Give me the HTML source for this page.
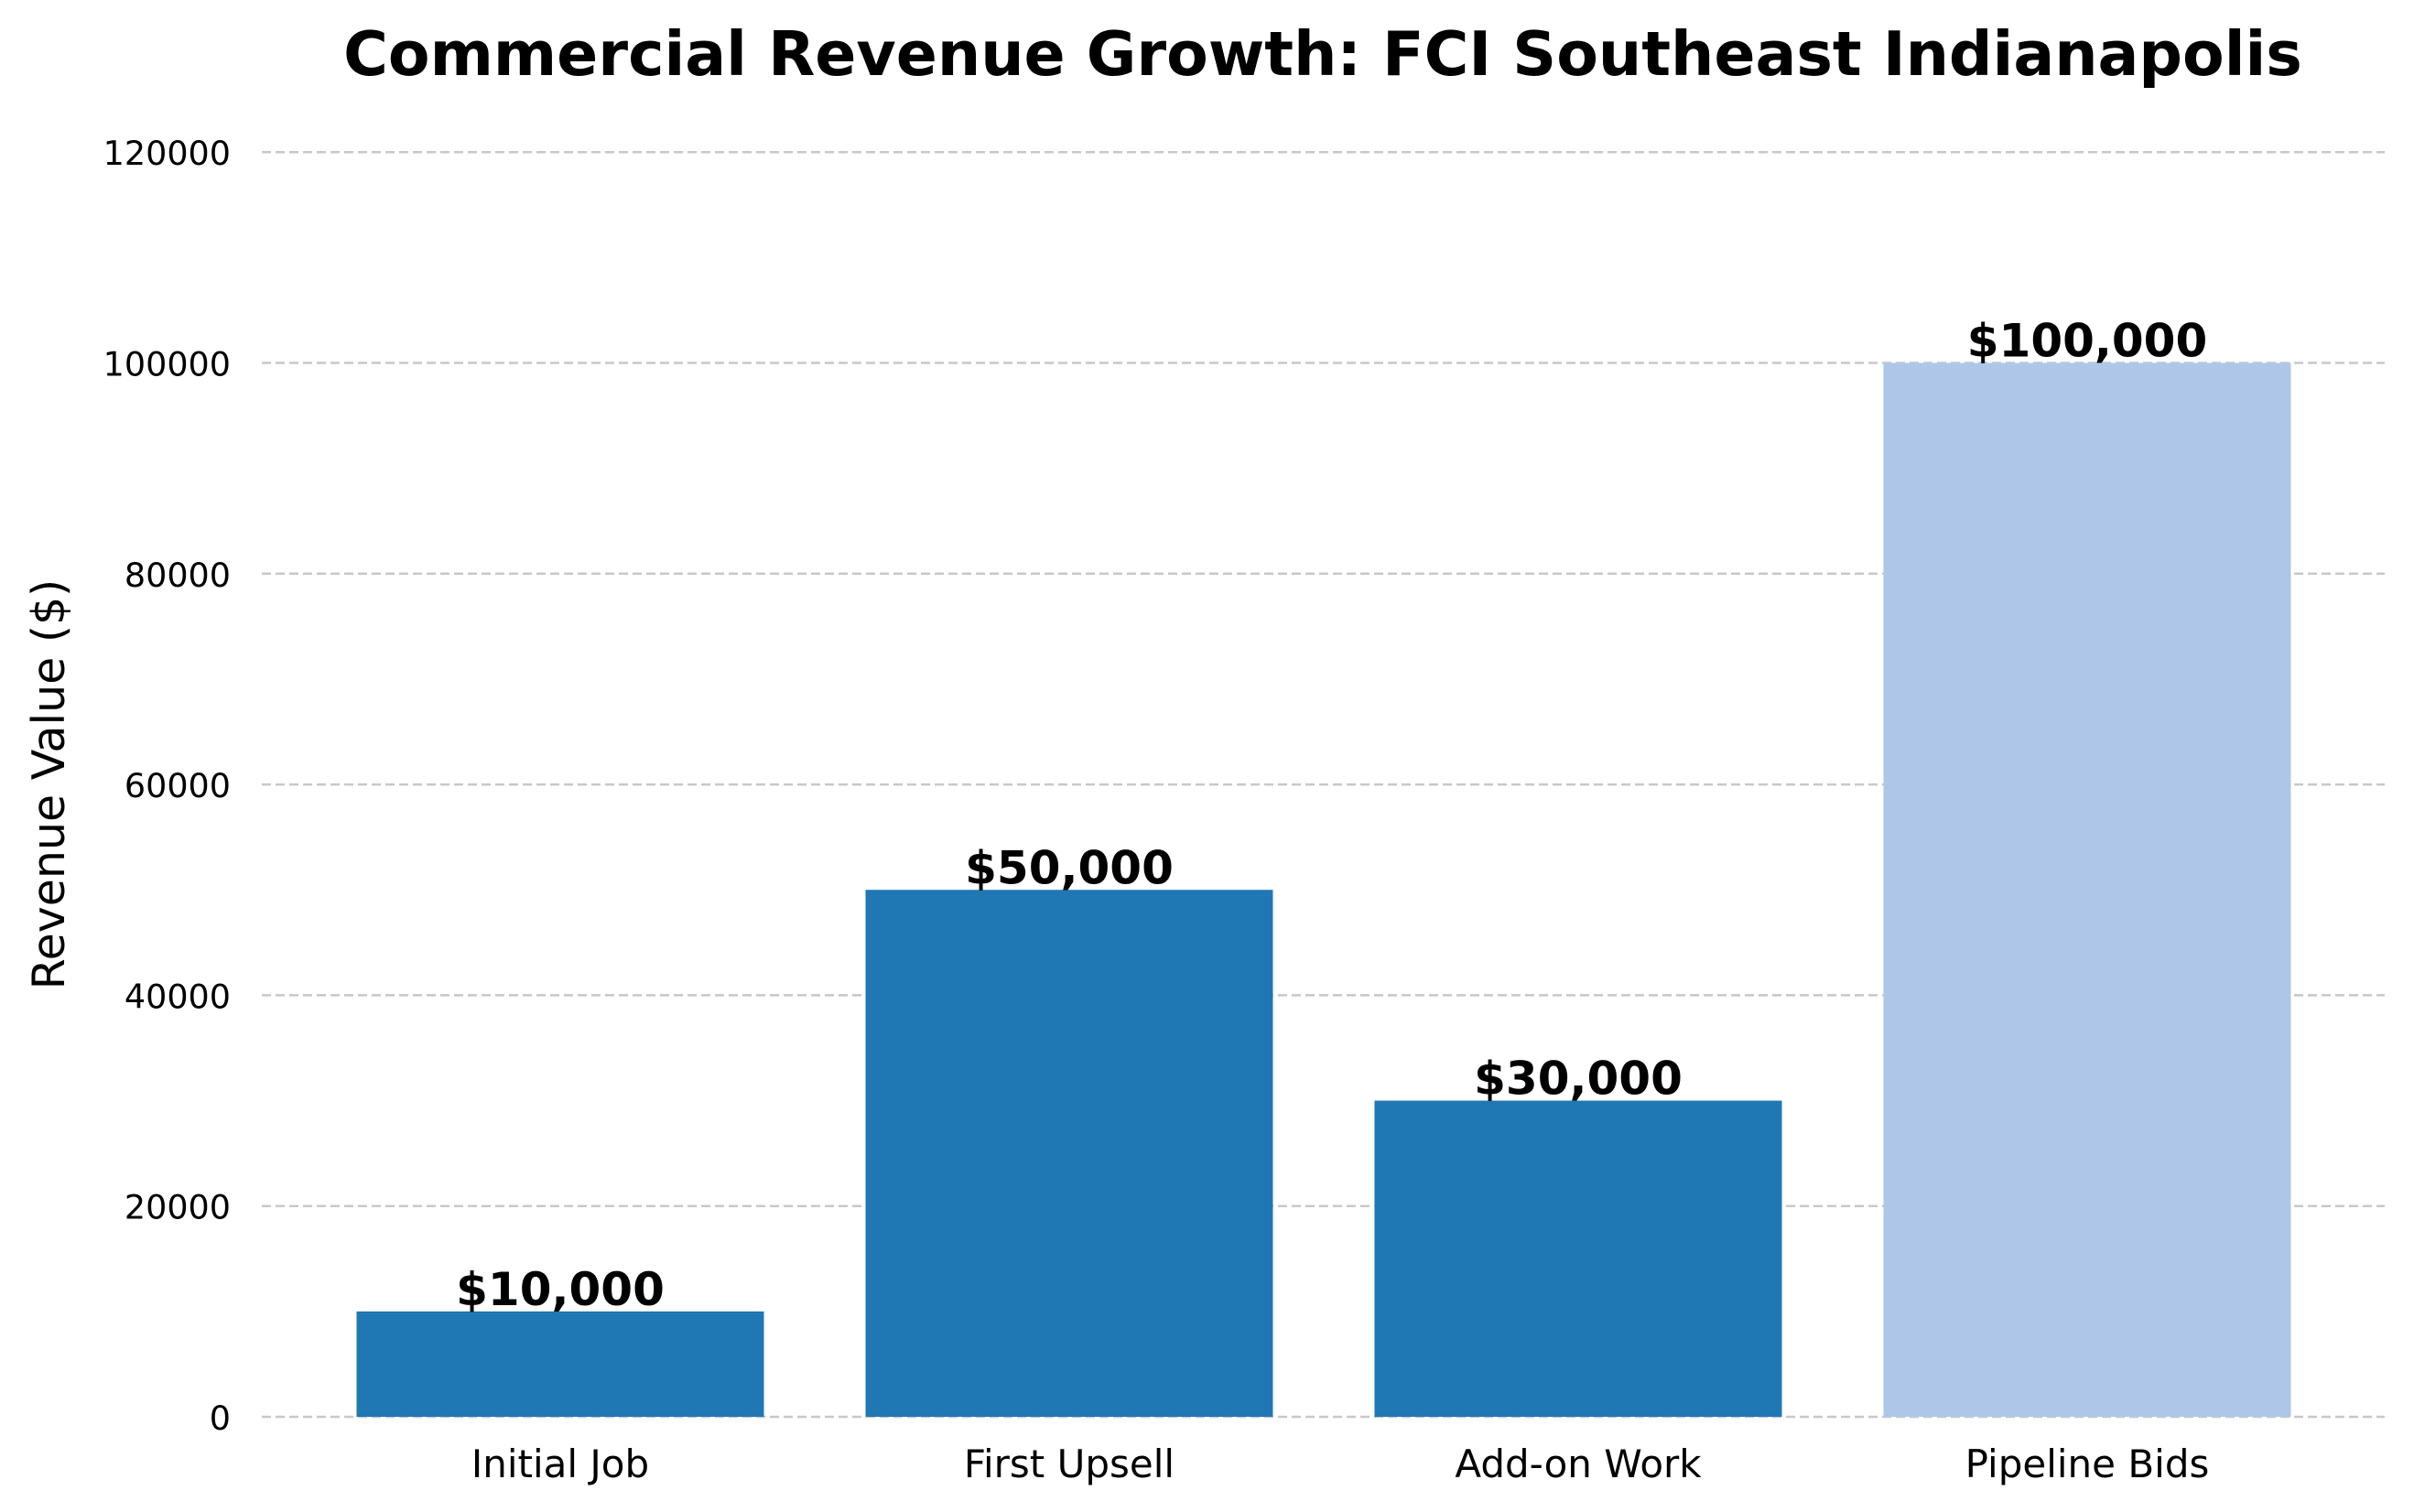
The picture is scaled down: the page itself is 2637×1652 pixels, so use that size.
<!DOCTYPE html>
<html><head><meta charset="utf-8"><style>
html,body{margin:0;padding:0;background:#fff;}
svg{display:block;font-family:"DejaVu Sans","Liberation Sans",sans-serif;}
</style></head><body>
<svg id="chart" width="2637" height="1652" viewBox="0 0 2637 1652" xmlns="http://www.w3.org/2000/svg">
<text x="1445" y="82" text-anchor="middle" font-size="66.5" font-weight="bold" fill="#000">Commercial Revenue Growth: FCI Southeast Indianapolis</text>
<text x="0" y="0" transform="translate(70,857) rotate(-90)" text-anchor="middle" font-size="49" fill="#000">Revenue Value ($)</text>
<g id="grid"></g><g id="bars"></g><g id="labels"></g>
</svg>
<script>
const categories = ["Initial Job","First Upsell","Add-on Work","Pipeline Bids"];
const values = [10000,50000,30000,100000];
const valueLabels = ["$10,000","$50,000","$30,000","$100,000"];
const barColors = ["#1f77b4","#1f77b4","#1f77b4","#aec7e8"];
const yTicks = [0,20000,40000,60000,80000,100000,120000];

const NS="http://www.w3.org/2000/svg";
const x0=612, step=556, barW=445;
const yZero=1548, yPer=230.3/20000;
function xScale(i){return x0+i*step;}
function yScale(v){return yZero - v*yPer;}
function mk(tag,attrs,parent){const e=document.createElementNS(NS,tag);for(const k in attrs)e.setAttribute(k,attrs[k]);parent.appendChild(e);return e;}
const grid=document.getElementById('grid'), bars=document.getElementById('bars'), labels=document.getElementById('labels');
yTicks.forEach(t=>{
  const y=yScale(t);
  const l=mk('line',{x1:286,x2:2605,y1:y,y2:y,stroke:'#c8c8c8','stroke-width':2.5,'stroke-dasharray':'10,5'},grid);
  
  
  const tx=mk('text',{x:252,y:y+14,'text-anchor':'end','font-size':36.5,fill:'#000'},labels);
  tx.textContent=String(t);
  
  
});
categories.forEach((c,i)=>{
  const cx=xScale(i), top=yScale(values[i]);
  const r=mk('rect',{x:cx-barW/2,y:top,width:barW,height:yZero-top,fill:barColors[i]},bars);
  
  
  const v=mk('text',{x:cx,y:top-7,'text-anchor':'middle','font-size':50,'font-weight':'bold',fill:'#000'},labels);
  v.textContent=valueLabels[i];
  
  
  const xl=mk('text',{x:cx,y:1614,'text-anchor':'middle','font-size':42,fill:'#000'},labels);
  xl.textContent=c;
  
  
});
</script>
</body></html>
